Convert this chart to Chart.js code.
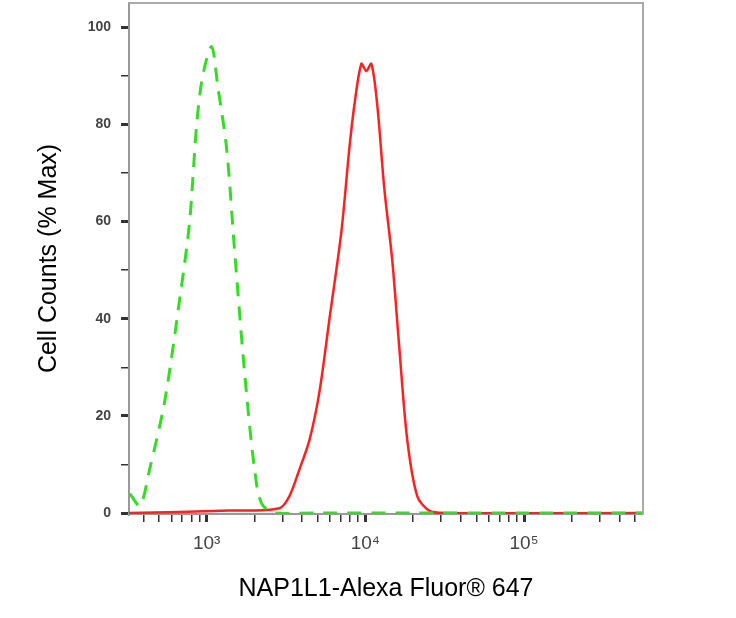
<!DOCTYPE html>
<html>
<head>
<meta charset="utf-8">
<script src="https://cdn.jsdelivr.net/npm/chart.js@4/dist/chart.umd.min.js"></script>
<style>
  body { margin: 0; background: #fff; }
  #wrap { width: 736px; height: 618px; }
</style>
</head>
<body>
<div id="wrap"><canvas id="histChart"></canvas></div>
<script>
// fluorescence (x) and % max (y)
const isotypeX = [328, 380, 437, 544, 676, 781, 865, 944, 1075, 1173, 1336, 1500, 1733, 2003, 2218, 2680, 5000, 20000, 100000, 560000];
const isotypeY = [4, 1.5, 9, 23, 44, 60, 80, 90, 96, 88, 75, 54, 29, 9, 2, 0, 0, 0, 0, 0];
const napX = [323, 1396, 2877, 3327, 3843, 4443, 5140, 5943, 7066, 7925, 8531, 9441, 10150, 10910, 11890, 13150, 14780, 16370, 18380, 21230, 25270, 31410, 560000];
const napY = [0, 0.5, 1, 3.5, 9, 15, 25, 40, 58, 75, 84, 92.5, 91, 92.5, 84, 67, 52, 34, 15, 3.5, 0.5, 0, 0];

const xTicks = [400, 500, 600, 700, 800, 900, 1000, 2000, 3000, 4000, 5000, 6000, 7000, 8000, 9000,
  10000, 20000, 30000, 40000, 50000, 60000, 70000, 80000, 90000, 100000, 200000, 300000, 400000, 500000];
const xMajor = { 1000: "10³", 10000: "10⁴", 100000: "10⁵" };
const yTicks = [0, 10, 20, 30, 40, 50, 60, 70, 80, 90, 100];
const yLabels = [0, 20, 40, 60, 80, 100];

const toPts = (xs, ys) => xs.map((x, i) => ({ x: x, y: ys[i] }));

const frame = {
  id: "frame",
  afterDraw(chart) {
    const a = chart.chartArea, c = chart.ctx;
    c.save();
    c.strokeStyle = "#aaa";
    c.lineWidth = 2;
    c.beginPath();
    c.moveTo(a.left, a.top); c.lineTo(a.right, a.top); c.lineTo(a.right, a.bottom);
    c.stroke();
    c.restore();
  }
};

new Chart(document.getElementById("histChart"), {
  type: "line",
  data: {
    datasets: [
      { data: toPts(isotypeX, isotypeY), borderColor: "#33dd22", borderWidth: 3, borderDash: [14, 10],
        pointRadius: 0, tension: 0.3, fill: false },
      { data: toPts(napX, napY), borderColor: "#ff2020", borderWidth: 2.5,
        pointRadius: 0, tension: 0.3, fill: false }
    ]
  },
  plugins: [frame],
  options: {
    responsive: true,
    maintainAspectRatio: false,
    animation: false,
    layout: { padding: { top: 3, right: 93, left: 30, bottom: 10 } },
    plugins: { legend: { display: false }, tooltip: { enabled: false } },
    scales: {
      x: {
        type: "logarithmic",
        min: 324, max: 562000,
        afterBuildTicks: s => { s.ticks = xTicks.map(v => ({ value: v, major: !!xMajor[v] })); },
        afterFit: s => { s.height = 94; s.paddingLeft = 0; s.paddingRight = 0; },
        ticks: {
          autoSkip: false, maxRotation: 0, color: "#444", padding: 10,
          font: { family: "Liberation Sans", size: 19 },
          callback: v => xMajor[v] || ""
        },
        grid: { drawOnChartArea: false, tickLength: 8, color: "#333",
          lineWidth: c => (c.tick && xMajor[c.tick.value]) ? 3 : 1.5 },
        border: { color: "#999", width: 2 },
        title: { display: true, text: "NAP1L1-Alexa Fluor® 647", color: "#000",
          font: { family: "Liberation Sans", size: 25 }, padding: { top: 0 } }
      },
      y: {
        min: -0.2, max: 105,
        afterBuildTicks: s => { s.ticks = yTicks.map(v => ({ value: v })); },
        afterFit: s => { s.width = 99; s.paddingTop = 0; s.paddingBottom = 0; },
        ticks: {
          autoSkip: false, color: "#444", padding: 10,
          font: { family: "Liberation Sans", size: 14, weight: "bold" },
          callback: v => yLabels.includes(v) ? String(v) : ""
        },
        grid: { drawOnChartArea: false, tickLength: 8, color: "#333",
          lineWidth: c => (c.tick && yLabels.includes(c.tick.value)) ? 3 : 1.5 },
        border: { color: "#999", width: 2 },
        title: { display: true, text: "Cell Counts (% Max)", color: "#000",
          font: { family: "Liberation Sans", size: 25 }, padding: { bottom: 4 } }
      }
    }
  }
});
</script>
</body>
</html>
